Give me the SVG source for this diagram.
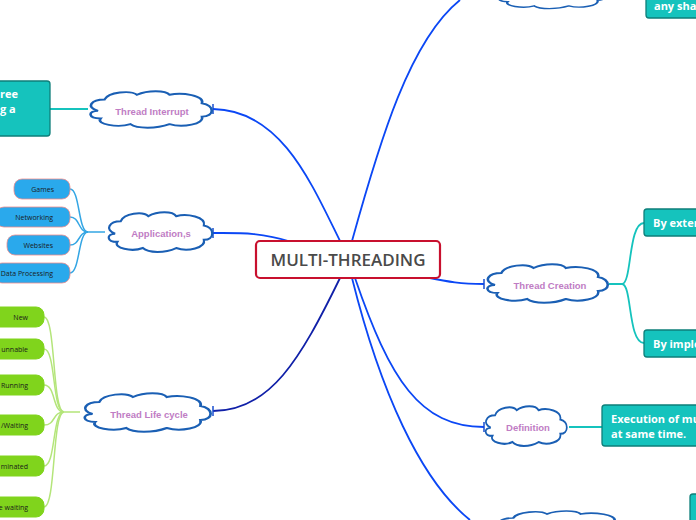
<svg xmlns="http://www.w3.org/2000/svg" width="696" height="520" viewBox="0 0 696 520">
<style>
.cl{fill:#fff;stroke:#1a5fb4;stroke-width:2;vector-effect:non-scaling-stroke}
.ct{font-family:"Liberation Sans",Arial,sans-serif;font-weight:bold;font-size:9.5px;fill:#c07cc4;text-anchor:middle}
.tb{fill:#15c3bd;stroke:#0e7f7a;stroke-width:1.3}
.tt{font-family:"Open Sans","Noto Sans",sans-serif;font-weight:bold;font-size:11px;fill:#fff}
.bp{fill:#2aa9ec;stroke:#f08c8c;stroke-width:0.8}
.gp{fill:#80d41c;stroke:#80d41c}
.pt{font-family:"Open Sans","Noto Sans",sans-serif;font-size:7px;fill:#1a1a1a;text-anchor:end}
.mc{fill:none;stroke:#0b47f5;stroke-width:1.8}
</style>
<defs>
<path id="cloud" d="M10,22 C0,18 5,10 15,10 C18,2 35,0 40,5 C48,0 62,0 65,5 C75,2 92,6 90,14 C100,16 100,28 90,28 C92,36 75,40 65,36 C55,41 40,41 35,36 C25,40 8,36 12,30 C2,30 2,22 10,22 Z"/>
</defs>
<g id="connectors">
<path class="mc" d="M340,241 C310,180 280,110 213,109"/>
<path class="mc" d="M292,242 C260,232 240,233 213,233"/>
<path class="mc" style="stroke:#1020a8" d="M340,278 C300,360 270,411 213,411"/>
<path class="mc" d="M425,277 C450,282 460,284 484,284"/>
<path class="mc" d="M355,278 C390,380 420,427 484,427"/>
<path class="mc" d="M352,278 C380,390 420,480 470,520"/>
<path class="mc" d="M352,241 C380,140 410,40 460,0"/>
<g fill="none" stroke="#1a4fd0" stroke-width="1.5"><path d="M213,104 v10 M213,228 v10 M213,406 v10 M484,279 v10 M484,422 v10"/></g>
<path d="M50,109 H88" fill="none" stroke="#15c3bd" stroke-width="1.8"/>
<path d="M569,427 H603" fill="none" stroke="#15c3bd" stroke-width="1.8"/>
<g fill="none" stroke="#15c3bd" stroke-width="1.8"><path d="M609,284 H622 C632,284 628,223 644,223"/><path d="M622,284 C632,284 628,343 644,343"/></g>
<g fill="none" stroke="#34a6e4" stroke-width="1.5"><path d="M105,232 H88 C78,232 80,189 70,189"/><path d="M88,232 C78,232 80,217 70,217"/><path d="M88,232 C78,232 80,245 70,245"/><path d="M88,232 C78,232 80,273 70,273"/></g>
<g fill="none" stroke="#b4e57a" stroke-width="1.5"><path d="M80,412 H64 C52,412 56,317 44,317"/><path d="M64,412 C52,412 56,349 44,349"/><path d="M64,412 C52,412 56,385 44,385"/><path d="M64,412 C52,412 56,425 44,425"/><path d="M64,412 C52,412 56,466 44,466"/><path d="M64,412 C52,412 56,507 44,507"/></g>
</g>
<g id="center"><rect x="256" y="241" width="184" height="37" rx="4" fill="#fff" stroke="#c8102e" stroke-width="2.2"/><text x="348" y="266" text-anchor="middle" font-family="'Open Sans','Noto Sans',sans-serif" font-size="17" font-weight="600" fill="#4a4a4a">MULTI-THREADING</text></g>
<g id="interrupt"><use href="#cloud" class="cl" transform="translate(85,90) scale(1.3,0.95)"/><text class="ct" x="152" y="115">Thread Interrupt</text></g>
<g id="apps"><use href="#cloud" class="cl" transform="translate(104,211) scale(1.11,1.03)"/><text class="ct" x="161" y="237">Application,s</text></g>
<g id="life"><use href="#cloud" class="cl" transform="translate(79,392) scale(1.35,1)"/><text class="ct" x="149" y="418">Thread Life cycle</text></g>
<g id="creation"><use href="#cloud" class="cl" transform="translate(482,263) scale(1.29,1)"/><text class="ct" x="550" y="289">Thread Creation</text></g>
<g id="definition"><use href="#cloud" class="cl" transform="translate(482,405) scale(0.87,1.03)"/><text class="ct" x="528" y="431">Definition</text></g>
<g id="topcloud"><use href="#cloud" class="cl" transform="translate(494,-20) scale(1.15,0.72)"/></g>
<g id="bottomcloud"><use href="#cloud" class="cl" transform="translate(493,510) scale(1.35,0.8)"/></g>
<g id="interrupt-text"><rect class="tb" x="-10" y="81" width="60" height="55" rx="3"/><text class="tt" x="0" y="98">ree</text><text class="tt" x="0" y="113">g a</text></g>
<g id="top-text"><rect class="tb" x="646" y="-10" width="60" height="28" rx="3"/><text class="tt" x="654" y="10">any sha</text></g>
<g id="extend"><rect class="tb" x="644" y="209" width="60" height="27" rx="3"/><text class="tt" x="653" y="227">By exter</text></g>
<g id="implement"><rect class="tb" x="644" y="330" width="60" height="27" rx="3"/><text class="tt" x="653" y="348">By imple</text></g>
<g id="def-text"><rect class="tb" x="602" y="405" width="100" height="41" rx="3"/><text class="tt" x="611" y="423">Execution of mu</text><text class="tt" x="611" y="438">at same time.</text></g>
<g id="bottom-text"><rect class="tb" x="690" y="494" width="20" height="40" rx="3"/></g>
<g id="games"><rect class="bp" x="14" y="179" width="56" height="20" rx="8"/><text class="pt" x="54" y="192">Games</text></g>
<g id="networking"><rect class="bp" x="-4" y="207" width="74" height="20" rx="8"/><text class="pt" x="53" y="220">Networking</text></g>
<g id="websites"><rect class="bp" x="7" y="235" width="63" height="20" rx="8"/><text class="pt" x="53" y="248">Websites</text></g>
<g id="dataproc"><rect class="bp" x="-6" y="263" width="76" height="20" rx="8"/><text class="pt" x="53" y="276">Data Processing</text></g>
<g id="new"><rect class="gp" x="-10" y="307" width="54" height="20" rx="8"/><text class="pt" x="28" y="320">New</text></g>
<g id="runnable"><rect class="gp" x="-10" y="339" width="54" height="20" rx="8"/><text class="pt" x="28" y="352">unnable</text></g>
<g id="running"><rect class="gp" x="-10" y="375" width="54" height="20" rx="8"/><text class="pt" x="28" y="388">Running</text></g>
<g id="waiting"><rect class="gp" x="-10" y="415" width="54" height="20" rx="8"/><text class="pt" x="28" y="428">/Waiting</text></g>
<g id="terminated"><rect class="gp" x="-10" y="456" width="54" height="20" rx="8"/><text class="pt" x="28" y="469">minated</text></g>
<g id="timedwaiting"><rect class="gp" x="-10" y="497" width="54" height="20" rx="8"/><text class="pt" x="28" y="510">e waiting</text></g>
</svg>
